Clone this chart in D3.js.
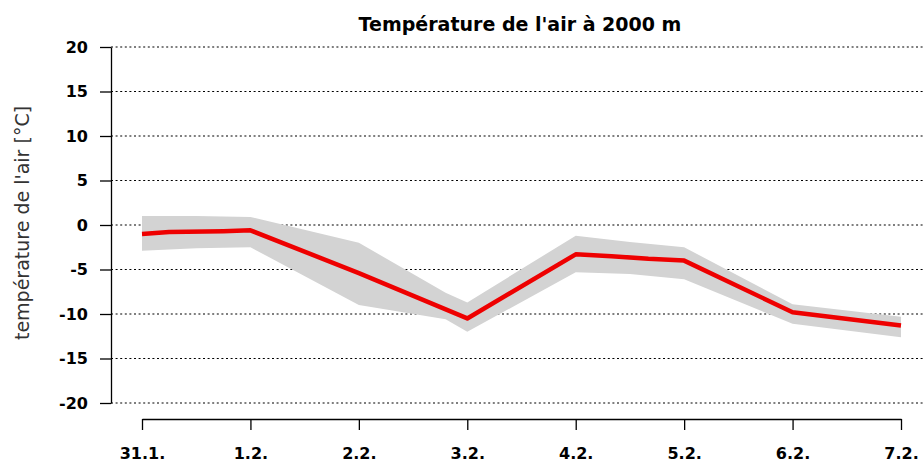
<!DOCTYPE html>
<html>
<head>
<meta charset="utf-8">
<script src="https://cdn.jsdelivr.net/npm/d3@7"></script>
<style>
	body { margin: 0; background: #fff; }
	svg { display: block; font-family: "DejaVu Sans", sans-serif; }
	.axis path, .axis line { stroke: #000; stroke-width: 1.3; }
	.axis text { font-family: "DejaVu Sans", sans-serif; font-size: 16px; font-weight: bold; fill: #000; }
	.grid line { stroke: #000; stroke-width: 1.2; stroke-dasharray: 2,2.6; }
</style>
</head>
<body>
<svg class="chart"></svg>
<script>
/* Air temperature at 2000 m: mean line with spread band */

// x positions are in days counted from 31.1.
var dayLabels = ["31.1.", "1.2.", "2.2.", "3.2.", "4.2.", "5.2.", "6.2.", "7.2."];
var yTicks = [-20, -15, -10, -5, 0, 5, 10, 15, 20];

var meanDays = [0, 0.25, 0.75, 1, 2, 3, 4, 4.33, 4.67, 5, 6, 7];
var meanTemp = [-1.0, -0.8, -0.7, -0.6, -5.4, -10.5, -3.3, -3.5, -3.8, -4.0, -9.8, -11.3];

var bandDays = [0, 0.5, 1, 2, 2.8, 3, 4, 4.5, 5, 6, 7];
var bandHigh = [1.0, 1.0, 0.9, -2.0, -7.6, -8.7, -1.2, -1.9, -2.5, -8.9, -10.3];
var bandLow = [-2.9, -2.6, -2.5, -9.0, -10.6, -12.0, -5.3, -5.5, -6.1, -11.1, -12.6];

var width = 923, height = 465;

var svg = d3.select(".chart")
	.attr("width", width)
	.attr("height", height);

var x = d3.scaleLinear()
	.domain([0, 7])
	.range([142, 901]);

var y = d3.scaleLinear()
	.domain([-20, 20])
	.range([403, 47]);

// dotted grid lines
svg.append("g")
	.attr("class", "grid")
	.selectAll("line")
	.data(yTicks)
  .enter().append("line")
	.attr("x1", 111)
	.attr("x2", width)
	.attr("y1", function(d) { return y(d); })
	.attr("y2", function(d) { return y(d); });

// spread band
var band = bandDays.map(function(d, i) { return {d: d, hi: bandHigh[i], lo: bandLow[i]}; });
svg.append("path")
	.datum(band)
	.attr("fill", "#d3d3d3")
	.attr("d", d3.area()
		.x(function(p) { return x(p.d); })
		.y0(function(p) { return y(p.lo); })
		.y1(function(p) { return y(p.hi); }));

// mean line
var mean = meanDays.map(function(d, i) { return {d: d, v: meanTemp[i]}; });
svg.append("path")
	.datum(mean)
	.attr("fill", "none")
	.attr("stroke", "#ee0000")
	.attr("stroke-width", 4.5)
	.attr("stroke-linejoin", "round")
	.attr("d", d3.line()
		.x(function(p) { return x(p.d); })
		.y(function(p) { return y(p.v); }));

// axes (plain hyphen for negative labels)
var yAxis = d3.axisLeft(y)
	.tickValues(yTicks)
	.tickFormat(function(d) { return String(d); })
	.tickSize(11)
	.tickSizeOuter(0)
	.tickPadding(12);

svg.append("g")
	.attr("class", "y axis")
	.attr("transform", "translate(111,0)")
	.call(yAxis);

var xAxis = d3.axisBottom(x)
	.tickValues(d3.range(dayLabels.length))
	.tickFormat(function(i) { return dayLabels[i]; })
	.tickSize(11)
	.tickSizeOuter(0)
	.tickPadding(18);

svg.append("g")
	.attr("class", "x axis")
	.attr("transform", "translate(0,419)")
	.call(xAxis);

svg.selectAll(".axis .domain").attr("fill", "none");

// title and axis label
svg.append("text")
	.attr("x", 520)
	.attr("y", 31)
	.attr("text-anchor", "middle")
	.style("font-size", "19px")
	.style("font-weight", "bold")
	.text("Température de l'air à 2000 m");

svg.append("text")
	.attr("transform", "translate(29,223) rotate(-90)")
	.attr("text-anchor", "middle")
	.style("font-size", "19px")
	.style("fill", "#333")
	.text("température de l'air [°C]");
</script>
</body>
</html>
